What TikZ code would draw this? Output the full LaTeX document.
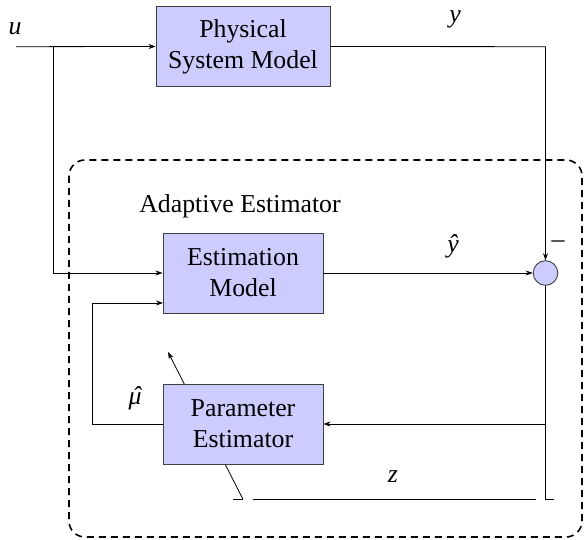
\documentclass[tikz,border=0pt]{standalone}
\usepackage{fontspec}
\setmainfont{Liberation Serif}
\usetikzlibrary{arrows.meta}
\begin{document}
\begin{tikzpicture}[x=1pt,y=-1pt,
  every node/.style={font=\fontsize{25.8}{31}\selectfont},
  blockbox/.style={draw=black!75,fill=blue!20,line width=0.9pt,align=center,inner sep=0pt},
  sumbox/.style={draw=black!75,fill=blue!20,line width=0.9pt,circle,minimum size=24.6pt,inner sep=0pt},
  conn/.style={line width=0.8pt},
  arr/.style={conn,-{Stealth[length=7pt,width=5pt]}},
  lbl/.style={anchor=base,inner sep=0pt}]
\useasboundingbox (0,0) rectangle (584,540);
% dashed frame
\draw[line width=1.6pt,dash pattern=on 7pt off 5pt,rounded corners=16pt] (69,160) rectangle (582,537);
\node[lbl] (adlbl) at (240,213) {Adaptive Estimator};
% diagonal adjust arrow (drawn behind the box)
\coordinate (dtickL) at (233,499.3);
\coordinate (dbase) at (243,499.3);
\coordinate (dtip) at (168,352);
\draw[conn] (dtickL) -- (dbase);
\draw[arr] (dbase) -- (dtip);
% blocks
\node[blockbox,minimum width=174pt,minimum height=80.7pt] (psm) at (243,46.5) {Physical\\System Model};
\node[blockbox,minimum width=160pt,minimum height=80pt] (em) at (243,273) {Estimation\\Model};
\node[blockbox,minimum width=160pt,minimum height=80pt] (pe) at (243,424) {Parameter\\Estimator};
\node[sumbox] (sum) at (545.5,273) {};
% coordinates
\coordinate (uin) at (16,46.7);
\coordinate (ubr) at (53.3,46.7);
\coordinate (ytop) at (545.5,46.7);
\coordinate (sbot) at (545.5,499.3);
\coordinate (stick) at (554,499.3);
\coordinate (epe) at (545.5,424);
\coordinate (muL) at (92,424);
\coordinate (muU) at (92,303);
\coordinate (emin) at (163,303);
\coordinate (zL) at (252.5,499.3);
\coordinate (zR) at (535.7,499.3);
% connectors
\draw[arr] (uin) -- (psm.west);
\draw[arr] (ubr) |- (em.west);
\draw[arr] (psm.east) -- (ytop) -- (sum.north);
\draw[arr] (em.east) -- (sum.west);
\draw[conn] (sum.south) -- (sbot) -- (stick);
\draw[arr] (epe) -- (pe.east);
\draw[arr] (pe.west) -- (muL) -- (muU) -- (emin);
\draw[conn] (zL) -- (zR);
% labels
\node[lbl] (ulbl) at (15,35) {\textit{u}};
\node[lbl] (ylbl) at (455,23) {\textit{y}};
\node[lbl] (yhlbl) at (453,253) {\textit{ŷ}};
\node[inner sep=0pt] (minus) at (558,244) {\textendash};
\node[lbl] (mulbl) at (135,404) {\textit{\rlap{\kern3.8pt ˆ}μ}};
\node[lbl] (zlbl) at (393,482) {\textit{z}};
\end{tikzpicture}
\end{document}
